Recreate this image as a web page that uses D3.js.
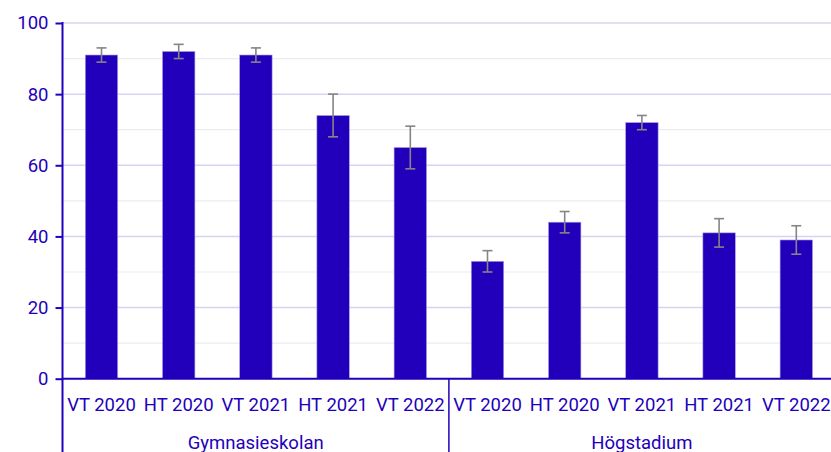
<!DOCTYPE html>
<html>
<head>
<meta charset="utf-8">
<script src="https://cdn.jsdelivr.net/npm/d3@7"></script>
<style>
  html, body { margin: 0; padding: 0; background: #fff; }
  svg { display: block; font-family: Roboto, "Noto Sans", sans-serif; }
</style>
</head>
<body>
<svg id="chart" width="831" height="452"></svg>
<script>
// ---- data ----
const groups = ["Gymnasieskolan", "Högstadium"];
const periods = ["VT 2020", "HT 2020", "VT 2021", "HT 2021", "VT 2022"];
const gymValues = [91, 92, 91, 74, 65];
const gymLow    = [89, 90, 89, 68, 59];
const gymHigh   = [93, 94, 93, 80, 71];
const hogValues = [33, 44, 72, 41, 39];
const hogLow    = [30, 41, 70, 37, 35];
const hogHigh   = [36, 47, 74, 45, 43];
const yTicks = [0, 20, 40, 60, 80, 100];
const yMinor = [10, 30, 50, 70, 90];

const rows = [];
groups.forEach((g, gi) => {
  const vals = gi === 0 ? gymValues : hogValues;
  const lo = gi === 0 ? gymLow : hogLow;
  const hi = gi === 0 ? gymHigh : hogHigh;
  periods.forEach((p, pi) => {
    rows.push({ key: g + "|" + p, group: g, period: p, value: vals[pi], low: lo[pi], high: hi[pi] });
  });
});

const main = "#2200bb";
const svg = d3.select("#chart");
const pLeft = 62.5, pTop = 23, pBottom = 378.7;
const bandStart = 62.9, bandEnd = 834.9;

const x = d3.scaleBand().domain(rows.map(d => d.key)).range([bandStart, bandEnd])
  .paddingInner(0.58).paddingOuter(0.29);
const y = d3.scaleLinear().domain([0, 100]).range([pBottom, pTop]);

// minor grid
svg.append("g").selectAll("line").data(yMinor).join("line")
  .attr("x1", pLeft).attr("x2", 831).attr("y1", d => y(d)).attr("y2", d => y(d))
  .attr("stroke", "#ececf0").attr("stroke-width", 1.2);
// major grid
svg.append("g").selectAll("line").data(yTicks.filter(d => d > 0)).join("line")
  .attr("x1", pLeft).attr("x2", 831).attr("y1", d => y(d)).attr("y2", d => y(d))
  .attr("stroke", "#d6d4f0").attr("stroke-width", 1.5);

// bars
svg.append("g").selectAll("rect").data(rows).join("rect")
  .attr("x", d => x(d.key)).attr("width", x.bandwidth())
  .attr("y", d => y(d.value)).attr("height", d => y(0) - y(d.value))
  .attr("fill", main).attr("stroke", "#a99ee6").attr("stroke-width", 0.6);

// error bars
const eb = svg.append("g").attr("stroke", "#858585").attr("stroke-width", 1.6);
rows.forEach(d => {
  const cx = x(d.key) + x.bandwidth() / 2;
  eb.append("line").attr("x1", cx).attr("x2", cx).attr("y1", y(d.high)).attr("y2", y(d.low));
  eb.append("line").attr("x1", cx - 5).attr("x2", cx + 5).attr("y1", y(d.high)).attr("y2", y(d.high));
  eb.append("line").attr("x1", cx - 5).attr("x2", cx + 5).attr("y1", y(d.low)).attr("y2", y(d.low));
});

// y axis
const yAxis = d3.axisLeft(y).tickValues(yTicks).tickSize(7).tickPadding(7);
const ya = svg.append("g").attr("transform", `translate(${pLeft},0)`).call(yAxis);
ya.select(".domain").remove();
ya.selectAll(".tick line").attr("stroke", main).attr("stroke-width", 2);
ya.selectAll(".tick text").attr("fill", main).attr("font-size", 18.5)
  .attr("font-family", "Roboto, sans-serif");
svg.append("line").attr("x1", pLeft).attr("x2", pLeft).attr("y1", pTop - 1).attr("y2", 452)
  .attr("stroke", main).attr("stroke-width", 2);

// x axis baseline
svg.append("line").attr("x1", pLeft).attr("x2", 831).attr("y1", pBottom).attr("y2", pBottom)
  .attr("stroke", main).attr("stroke-width", 2);

// category labels
svg.append("g").selectAll("text").data(rows).join("text")
  .attr("x", d => x(d.key) + x.bandwidth() / 2).attr("y", 411)
  .attr("text-anchor", "middle").attr("fill", main).attr("font-size", 18.5)
  .text(d => d.period);

// group separator and labels
const step = x.step();
const sepX = x(rows[5].key) - (step - x.bandwidth()) / 2;
svg.append("line").attr("x1", sepX).attr("x2", sepX).attr("y1", pBottom).attr("y2", 452)
  .attr("stroke", main).attr("stroke-width", 1.5);
svg.append("g").selectAll("text").data(groups).join("text")
  .attr("x", (d, i) => i === 0 ? (pLeft + sepX) / 2 : (sepX + bandEnd) / 2)
  .attr("y", 449).attr("text-anchor", "middle").attr("fill", main).attr("font-size", 18.5)
  .text(d => d);
</script>
</body>
</html>
